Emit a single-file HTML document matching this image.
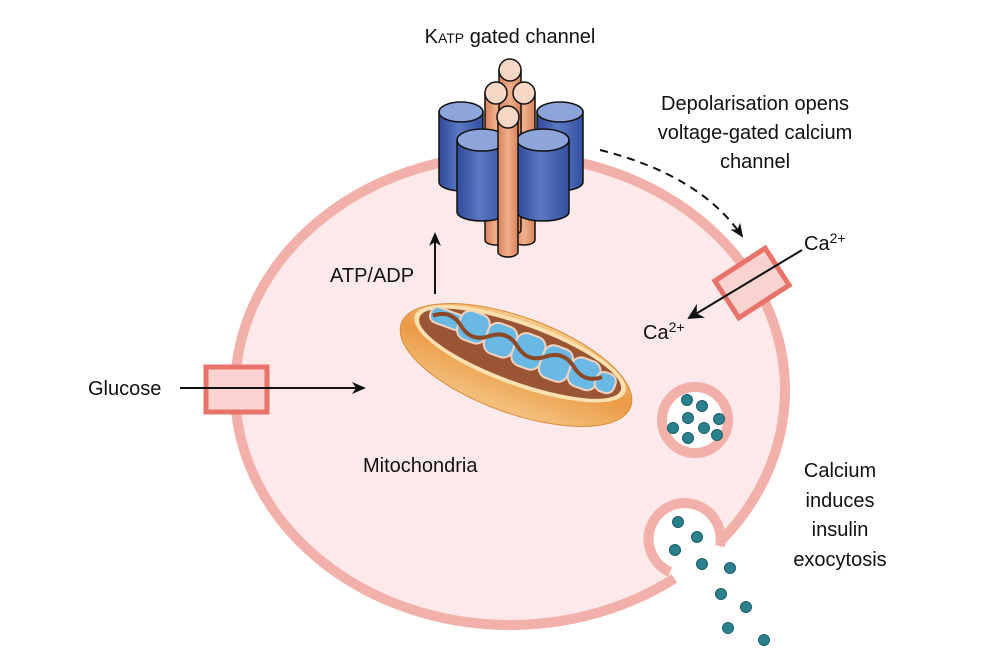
<!DOCTYPE html>
<html><head><meta charset="utf-8"><style>
html,body{margin:0;padding:0;background:#fff;}
svg{display:block;font-family:"Liberation Sans",sans-serif;}
</style></head><body>
<svg width="1000" height="667" viewBox="0 0 1000 667" xmlns="http://www.w3.org/2000/svg">
<defs>
<linearGradient id="bl" x1="0" x2="1"><stop offset="0" stop-color="#2f4a98"/><stop offset="0.45" stop-color="#5b78c4"/><stop offset="1" stop-color="#33509e"/></linearGradient>
<linearGradient id="or" x1="0" x2="1"><stop offset="0" stop-color="#d9825a"/><stop offset="0.5" stop-color="#f0b08c"/><stop offset="1" stop-color="#d9825a"/></linearGradient>
<linearGradient id="mito" x1="0" y1="0" x2="0" y2="1"><stop offset="0" stop-color="#f6c887"/><stop offset="0.5" stop-color="#eb9a45"/><stop offset="1" stop-color="#f3c27f"/></linearGradient>
<marker id="ah" markerWidth="14" markerHeight="12" refX="12" refY="6" orient="auto" markerUnits="userSpaceOnUse"><path d="M0,0 L14,6 L0,12 L4,6 Z" fill="#111"/></marker>
<marker id="ah2" markerWidth="16" markerHeight="16" refX="14" refY="8" orient="auto" markerUnits="userSpaceOnUse"><path d="M0,0 L16,8 L0,16 L5,8 Z" fill="#111"/></marker>
</defs>

<ellipse cx="510" cy="390" rx="275" ry="235" fill="#fde9e9" stroke="#f2b0aa" stroke-width="10"/>
<circle cx="684" cy="537" r="36" fill="#fff"/>
<polygon points="720,546 670,572 700,615 755,578" fill="#fff"/>
<path d="M 720 546 A 36 36 0 1 0 670 572" fill="none" stroke="#f2b0aa" stroke-width="10"/>

<circle cx="695" cy="420" r="33" fill="#fff" stroke="#f2b0aa" stroke-width="10"/>
<g fill="#2a808c" stroke="#1d5f68" stroke-width="1">
<circle cx="687" cy="400" r="5.5"/><circle cx="702" cy="406" r="5.5"/><circle cx="688" cy="418" r="5.5"/>
<circle cx="673" cy="428" r="5.5"/><circle cx="704" cy="428" r="5.5"/><circle cx="719" cy="419" r="5.5"/>
<circle cx="688" cy="438" r="5.5"/><circle cx="717" cy="435" r="5.5"/>
<circle cx="678" cy="522" r="5.5"/><circle cx="697" cy="537" r="5.5"/><circle cx="675" cy="550" r="5.5"/>
<circle cx="702" cy="564" r="5.5"/><circle cx="730" cy="568" r="5.5"/><circle cx="721" cy="594" r="5.5"/>
<circle cx="746" cy="607" r="5.5"/><circle cx="728" cy="628" r="5.5"/><circle cx="764" cy="640" r="5.5"/>
</g>

<rect x="206" y="367" width="61" height="45" fill="#f9d3cf" stroke="#e8736a" stroke-width="5"/>
<line x1="180" y1="388" x2="364" y2="388" stroke="#111" stroke-width="2" marker-end="url(#ah)"/>
<text x="88" y="395" font-size="20" fill="#111">Glucose</text>

<line x1="435" y1="294" x2="435" y2="234" stroke="#111" stroke-width="2" marker-end="url(#ah)"/>
<text x="330" y="282" font-size="20" fill="#111">ATP/ADP</text>

<g transform="translate(516,365) rotate(20)">
<ellipse cx="0" cy="0" rx="122" ry="48" fill="url(#mito)" stroke="#d98a3a" stroke-width="1"/>
<ellipse cx="0" cy="-12" rx="112" ry="32" fill="#fbe0b0"/>
<ellipse cx="0" cy="-12" rx="107" ry="28" fill="#9a5634"/>
<g fill="#6ab8e4" stroke="#f1d2c0" stroke-width="2">
<rect x="-98" y="-28" width="34" height="16" rx="7"/>
<rect x="-68" y="-36" width="30" height="30" rx="10"/>
<rect x="-38" y="-34" width="30" height="32" rx="10"/>
<rect x="-8" y="-34" width="30" height="34" rx="10"/>
<rect x="22" y="-32" width="30" height="34" rx="10"/>
<rect x="52" y="-30" width="30" height="30" rx="10"/>
<rect x="80" y="-24" width="20" height="20" rx="8"/>
</g>
<path d="M -95 -18 q 15 -12 30 0 t 30 0 t 30 0 t 30 0 t 30 0 t 30 0" fill="none" stroke="#8a4a2a" stroke-width="4"/>
</g>
<text x="363" y="472" font-size="20" fill="#111">Mitochondria</text>

<g stroke="#111" stroke-width="1.5">
<path d="M439 112 V182 A22 9 0 0 0 483 182 V112 Z" fill="url(#bl)"/>
<ellipse cx="461" cy="112" rx="22" ry="10" fill="#8ea5dc"/>
<path d="M537 112 V182 A23 9 0 0 0 583 182 V112 Z" fill="url(#bl)"/>
<ellipse cx="560" cy="112" rx="23" ry="10" fill="#8ea5dc"/>
<path d="M485 93 V240 A11 5 0 0 0 507 240 V93 Z" fill="url(#or)"/>
<path d="M513 93 V240 A11 5 0 0 0 535 240 V93 Z" fill="url(#or)"/>
<path d="M499 70 V230 A11 5 0 0 0 521 230 V70 Z" fill="url(#or)"/>
<circle cx="510" cy="70" r="11" fill="#f7d8c6"/>
<circle cx="496" cy="93" r="11" fill="#f7d8c6"/>
<circle cx="524" cy="93" r="11" fill="#f7d8c6"/>
<path d="M457 140 V212 A25 9 0 0 0 507 212 V140 Z" fill="url(#bl)"/>
<ellipse cx="482" cy="140" rx="25" ry="11" fill="#8ea5dc"/>
<path d="M517 140 V212 A26 9 0 0 0 569 212 V140 Z" fill="url(#bl)"/>
<ellipse cx="543" cy="140" rx="26" ry="11" fill="#8ea5dc"/>
<path d="M498 117 V252 A10 5 0 0 0 518 252 V117 Z" fill="url(#or)"/>
<circle cx="508" cy="117" r="11" fill="#f7d8c6"/>
</g>
<text x="510" y="43" font-size="20" fill="#111" text-anchor="middle">K<tspan font-size="14">ATP</tspan> gated channel</text>

<path d="M600 150 Q 700 175 742 236" fill="none" stroke="#111" stroke-width="2" stroke-dasharray="8,6" marker-end="url(#ah)"/>
<g font-size="20" fill="#111" text-anchor="middle">
<text x="755" y="110">Depolarisation opens</text>
<text x="755" y="139">voltage-gated calcium</text>
<text x="755" y="168">channel</text>
</g>

<g transform="translate(752,283) rotate(-33)">
<rect x="-30" y="-22" width="60" height="44" fill="#f9d3cf" stroke="#e8736a" stroke-width="5"/>
</g>
<line x1="802" y1="250" x2="689" y2="318" stroke="#111" stroke-width="2" marker-end="url(#ah2)"/>
<text x="804" y="250" font-size="20" fill="#111">Ca<tspan font-size="14" dy="-7">2+</tspan></text>
<text x="643" y="339" font-size="20" fill="#111">Ca<tspan font-size="14" dy="-7">2+</tspan></text>

<g font-size="20" fill="#111" text-anchor="middle">
<text x="840" y="477">Calcium</text>
<text x="840" y="507">induces</text>
<text x="840" y="536">insulin</text>
<text x="840" y="566">exocytosis</text>
</g>
</svg>
</body></html>
